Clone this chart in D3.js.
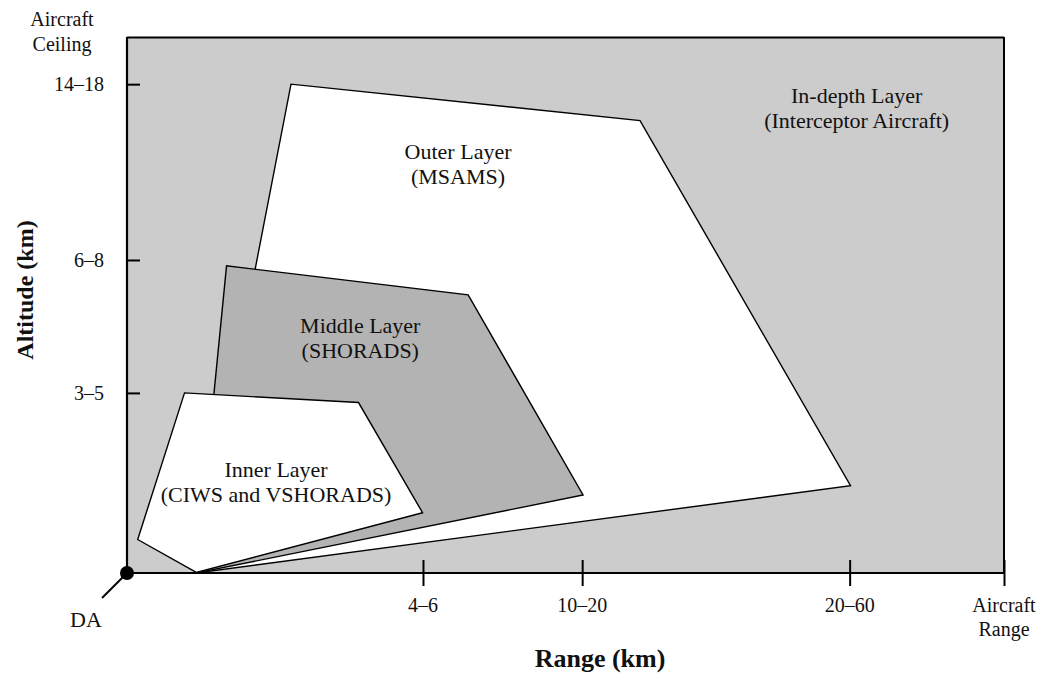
<!DOCTYPE html>
<html>
<head>
<meta charset="utf-8">
<script src="https://cdn.jsdelivr.net/npm/d3@7/dist/d3.min.js"></script>
<style>
  html, body { margin: 0; padding: 0; background: #fff; }
  svg { display: block; }
  text { font-family: "Liberation Serif", "DejaVu Serif", serif; fill: #111; }
</style>
</head>
<body>
<svg id="chart" width="1043" height="675"></svg>
<script>
// ---- Data (abstract units: 0..100 on both axes) ----
const xTickValues = [33.75, 51.9, 82.4, 100];
const xTickLabels = [["4–6"], ["10–20"], ["20–60"], ["Aircraft", "Range"]];
const yTickValues = [33.6, 58.4, 91.2, 100];
const yTickLabels = [["3–5"], ["6–8"], ["14–18"], ["Aircraft", "Ceiling"]];

const layerNames = ["Outer", "Middle", "Inner"];
const outerLayer = [[7.9, 0], [18.7, 91.2], [58.5, 84.4], [82.5, 16.3]];
const middleLayer = [[7.9, 0], [11.35, 57.3], [38.9, 51.9], [52.0, 14.55]];
const innerLayer = [[7.9, 0.1], [1.22, 6.25], [6.56, 33.6], [26.4, 31.8], [33.7, 11.25]];

const labelTexts = [
  ["In-depth Layer", "(Interceptor Aircraft)"],
  ["Outer Layer", "(MSAMS)"],
  ["Middle Layer", "(SHORADS)"],
  ["Inner Layer", "(CIWS and VSHORADS)"]
];
const labelAnchors = [[83.2, 87.7], [37.75, 77.3], [26.6, 44.8], [17.0, 17.9]];

// ---- Layout ----
const svg = d3.select("#chart");
const x = d3.scaleLinear().domain([0, 100]).range([127, 1004]);
const y = d3.scaleLinear().domain([0, 100]).range([573, 37]);

// background (in-depth layer)
svg.append("rect")
  .attr("x", x(0)).attr("y", y(100))
  .attr("width", x(100) - x(0)).attr("height", y(0) - y(100))
  .attr("fill", "#cccccc");

const line = d3.line().x(d => x(d[0])).y(d => y(d[1])).curve(d3.curveLinearClosed);
const polys = [
  { pts: outerLayer, fill: "#ffffff" },
  { pts: middleLayer, fill: "#b3b3b3" },
  { pts: innerLayer, fill: "#ffffff" }
];
svg.selectAll("path.layer").data(polys).join("path")
  .attr("class", "layer")
  .attr("d", d => line(d.pts))
  .attr("fill", d => d.fill)
  .attr("stroke", "#000")
  .attr("stroke-width", 1.4)
  .attr("stroke-linejoin", "miter");

// right border
svg.append("line")
  .attr("x1", x(100)).attr("x2", x(100)).attr("y1", y(100)).attr("y2", y(0))
  .attr("stroke", "#000").attr("stroke-width", 2);

// Axes
const xAxis = d3.axisBottom(x).tickValues(xTickValues).tickSize(13).tickSizeOuter(0).tickFormat("");
const gx = svg.append("g").attr("transform", `translate(0,${y(0)})`).call(xAxis);
gx.select(".domain").attr("stroke-width", 2.2).attr("d", `M${x(0)},0H${x(100)}`);
gx.selectAll(".tick line").attr("y1", -13).attr("stroke-width", 2);

const yAxis = d3.axisLeft(y).tickValues(yTickValues).tickSize(14).tickSizeOuter(0).tickFormat("");
const gy = svg.append("g").attr("transform", `translate(${x(0)},0)`).call(yAxis);
gy.select(".domain").attr("stroke-width", 2.2).attr("d", `M0,${y(0)}V${y(100)}`);
gy.selectAll(".tick line").attr("x2", d => d === 100 ? x(100) - x(0) : 13).attr("stroke-width", 2);

// x tick labels
xTickValues.forEach((v, i) => {
  const t = svg.append("text")
    .attr("x", x(v)).attr("y", 612)
    .attr("text-anchor", "middle").attr("font-size", 20);
  xTickLabels[i].forEach((s, j) => {
    t.append("tspan").attr("x", x(v)).attr("dy", j === 0 ? 0 : 24).text(s);
  });
});

// y tick labels
yTickValues.forEach((v, i) => {
  const lines = yTickLabels[i];
  if (lines.length === 1) {
    svg.append("text").attr("x", 104).attr("y", y(v) + 7)
      .attr("text-anchor", "end").attr("font-size", 20).text(lines[0]);
  } else {
    const t = svg.append("text").attr("x", 62).attr("y", 26)
      .attr("text-anchor", "middle").attr("font-size", 20);
    lines.forEach((s, j) => t.append("tspan").attr("x", 62).attr("dy", j === 0 ? 0 : 25).text(s));
  }
});

// Layer labels
labelTexts.forEach((lines, i) => {
  const [ax, ay] = labelAnchors[i];
  const t = svg.append("text")
    .attr("x", x(ax)).attr("y", y(ay))
    .attr("text-anchor", "middle").attr("font-size", 22);
  lines.forEach((s, j) => t.append("tspan").attr("x", x(ax)).attr("dy", j === 0 ? 0 : 25).text(s));
});

// Axis titles
svg.append("text").attr("x", 600).attr("y", 667)
  .attr("text-anchor", "middle").attr("font-size", 26).attr("font-weight", "bold")
  .text("Range (km)");
svg.append("text").attr("transform", "translate(33,290) rotate(-90)")
  .attr("text-anchor", "middle").attr("font-size", 24).attr("font-weight", "bold")
  .text("Altitude (km)");

// DA marker
svg.append("line").attr("x1", x(0)).attr("y1", y(0)).attr("x2", 102).attr("y2", 598)
  .attr("stroke", "#000").attr("stroke-width", 2);
svg.append("circle").attr("cx", x(0)).attr("cy", y(0)).attr("r", 7).attr("fill", "#000");
svg.append("text").attr("x", 86).attr("y", 627).attr("text-anchor", "middle")
  .attr("font-size", 22).text("DA");
</script>
</body>
</html>
